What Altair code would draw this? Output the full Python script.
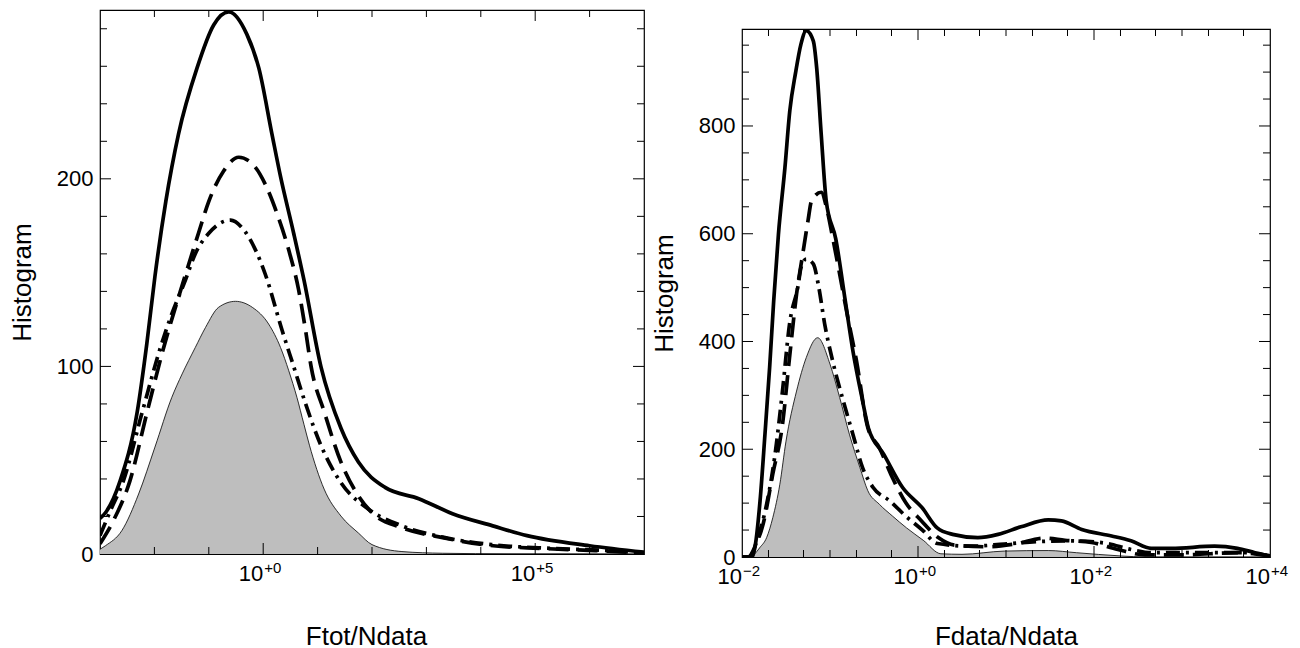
import altair as alt
import pandas as pd

FONT = "Liberation Sans"

# ---------------- Left panel: Ftot/Ndata (log10 exponent, histogram value)
L_solid_e = [-3.0, -2.9, -2.63, -2.32, -2.14, -1.99, -1.79, -1.556, -1.217, -0.91, -0.635, -0.30, -0.08, 0.16, 0.32, 0.56, 0.75, 1.06, 1.43, 1.75, 2.24, 2.86, 3.48, 4.22, 4.85, 6.0, 7.0]
L_solid_v = [19, 22, 39, 75, 112, 148, 188, 224, 259, 282, 289, 277, 259, 224, 201, 171, 146, 100, 67, 49, 35.5, 29.5, 21.5, 15, 9.8, 4.4, 1]

L_dash_e = [-3.0, -2.75, -2.45, -2.14, -1.83, -1.46, -1.19, -1.0, -0.73, -0.45, -0.14, 0.04, 0.26, 0.47, 0.65, 0.78, 0.88, 1.12, 1.43, 1.75, 2.0, 2.55, 3.3, 4.23, 5.1, 6.1, 7.0]
L_dash_v = [5.5, 18, 39, 75, 110, 146, 171, 188, 204, 211.5, 206, 197, 181, 162, 141, 119, 100, 76, 49, 31, 22, 14, 8.7, 4.4, 3, 1.8, 0.5]

L_dot_e = [-3.0, -2.81, -2.57, -2.23, -1.89, -1.68, -1.43, -1.25, -1.0, -0.60, -0.39, -0.14, 0.04, 0.35, 0.56, 0.78, 1.06, 1.43, 1.93, 2.55, 3.3, 4.2, 5.3, 6.2, 7.0]
L_dot_v = [9.8, 23, 39, 75, 110, 128, 146, 160, 171, 178, 174, 162, 149, 119, 100, 80, 58, 38, 24, 15, 9, 5, 3, 2, 0.5]

L_gray_e = [-3.0, -2.9, -2.6, -2.29, -1.99, -1.68, -1.49, -1.25, -1.06, -0.82, -0.51, -0.20, 0.10, 0.32, 0.47, 0.62, 0.75, 0.85, 1.12, 1.43, 1.75, 2.0, 2.55, 3.3, 4.5, 7.0]
L_gray_v = [2.5, 4.4, 12.4, 32, 57, 83.5, 96, 110, 120.8, 131.5, 134.7, 131.5, 122.6, 110, 97.7, 83.5, 69, 58, 34.6, 20.2, 11.2, 5, 1.3, 0.4, 0.1, 0]

# ---------------- Right panel: Fdata/Ndata
R_solid_e = [-2.0, -1.9, -1.88, -1.848, -1.795, -1.739, -1.686, -1.64, -1.586, -1.512, -1.457, -1.391, -1.33, -1.27, -1.19, -1.152, -1.10, -1.043, -0.934, -0.826, -0.739, -0.63, -0.565, -0.39, -0.175, 0.044, 0.218, 0.393, 0.68, 0.91, 1.17, 1.48, 1.63, 1.86, 2.20, 2.42, 2.65, 2.88, 3.37, 3.63, 3.83, 4.0]
R_solid_v = [0, 0, 2, 23, 104, 228, 352, 475, 599, 723, 828, 899, 952, 977, 958, 909, 785, 661, 590, 475, 382, 290, 240, 191, 129, 92, 54, 42, 36, 42, 56, 69, 67, 51, 39, 30, 16, 16, 20, 16, 8, 2]

R_dash_e = [-2.0, -1.93, -1.84, -1.76, -1.65, -1.54, -1.46, -1.38, -1.31, -1.25, -1.21, -1.10, -1.04, -0.97, -0.89, -0.81, -0.70, -0.57, -0.44, -0.29, -0.14, 0.04, 0.23, 0.42, 0.79, 1.10, 1.44, 1.67, 1.97, 2.27, 2.58, 3.0, 3.64, 4.0]
R_dash_v = [0, 0, 24, 61, 154, 246, 370, 488, 562, 624, 661, 677, 649, 593, 525, 455, 365, 240, 203, 147, 101, 67, 36, 22, 19, 24, 35, 31, 27, 14, 4, 4, 8, 2]

R_dot_e = [-2.0, -1.92, -1.82, -1.72, -1.63, -1.54, -1.46, -1.36, -1.33, -1.27, -1.19, -1.13, -1.06, -0.97, -0.85, -0.74, -0.63, -0.51, -0.32, -0.14, 0.05, 0.22, 0.61, 0.98, 1.36, 1.74, 2.12, 2.42, 2.65, 3.26, 3.7, 4.0]
R_dot_v = [0, 0, 36, 98, 184, 308, 432, 506, 537, 553, 544, 503, 432, 364, 290, 228, 166, 129, 104, 76, 50, 25, 20, 24, 28.5, 30, 26, 14, 8, 8, 8, 2]

R_gray_e = [-2.0, -1.90, -1.86, -1.80, -1.72, -1.65, -1.57, -1.50, -1.38, -1.27, -1.14, -1.0, -0.89, -0.78, -0.66, -0.57, -0.44, -0.29, -0.13, 0.06, 0.26, 0.5, 0.98, 1.48, 1.8, 2.3, 2.6, 4.0]
R_gray_v = [0, 0, 5, 17, 36, 73, 135, 215, 308, 370, 407, 358, 296, 228, 166, 123, 98, 76, 54, 31, 6, 5, 11, 12, 8, 2, 0, 0]

# ---------------- Axis ticks and labels
L_xdomain = [1e-3, 1e7]
L_ydomain = [0, 290]
L_xlabel_exp = [0, 5]
L_xlabel_sup = ["+0", "+5"]
L_xmajor_exp = [0, 5]
L_xminor_exp = [-2, -1, 1, 2, 3, 4, 6]
L_ylabels = [0, 100, 200]
L_ymajor = [100, 200]
L_yminor = [20, 40, 60, 80, 120, 140, 160, 180, 220, 240, 260, 280]

R_xdomain = [1e-2, 1e4]
R_ydomain = [0, 980]
R_xlabel_exp = [-2, 0, 2, 4]
R_xlabel_sup = ["\u22122", "+0", "+2", "+4"]
R_xmajor = [1, 100]
R_xminor = [0.02, 0.05, 0.1, 0.2, 0.5, 2, 5, 10, 20, 50, 200, 500, 1000, 2000, 5000]
R_ylabels = [0, 200, 400, 600, 800]
R_ymajor = [200, 400, 600, 800]
R_yminor = [50, 100, 150, 250, 300, 350, 450, 500, 550, 650, 700, 750, 850, 900, 950]


def curve_df(e, v):
    return pd.DataFrame({"x": [10 ** a for a in e], "y": v})


def panel(curves, gray, xdom, ydom, lab_exp, lab_sup, ylabels, xmajor, xminor,
          ymajor, yminor, W, H, xtitle, title_x, title_pad):
    xs = alt.Scale(type="log", domain=xdom, nice=False)
    ys = alt.Scale(domain=ydom, nice=False, zero=False)
    xax = alt.Axis(values=[10 ** e for e in lab_exp], labels=False,
                   ticks=False, domain=False, grid=False, title=xtitle, titlePadding=title_pad,
                   titleX=title_x)
    yax = alt.Axis(values=ylabels, ticks=False, domain=False, grid=False, title="Histogram",
                   labelPadding=7, titlePadding=21, labelFlush=False, labelOverlap=False)
    X = alt.X("x:Q", scale=xs, axis=xax)
    Y = alt.Y("y:Q", scale=ys, axis=yax)

    layers = []
    gdf = curve_df(*gray)
    layers.append(alt.Chart(gdf).mark_area(color="#bebebe", interpolate="monotone", clip=True)
                  .encode(x=X, y=Y))
    layers.append(alt.Chart(gdf).mark_line(color="black", strokeWidth=0.8, interpolate="monotone", clip=True)
                  .encode(x=X, y=Y))
    styles = [[], [20, 9], [14, 6, 3, 6]]
    for (e, v), dash in zip(curves, styles):
        kw = dict(color="black", strokeWidth=3.7, interpolate="monotone", clip=True)
        if dash:
            kw["strokeDash"] = dash
        layers.append(alt.Chart(curve_df(e, v)).mark_line(**kw).encode(x=X, y=Y))

    def xt(vals, L):
        d = pd.DataFrame({"x": vals})
        return [
            alt.Chart(d).mark_rule(color="black", strokeWidth=1).encode(x=X, y=alt.value(H), y2=alt.value(H - L)),
            alt.Chart(d).mark_rule(color="black", strokeWidth=1).encode(x=X, y=alt.value(0), y2=alt.value(L)),
        ]

    def yt(vals, L):
        d = pd.DataFrame({"y": vals})
        return [
            alt.Chart(d).mark_rule(color="black", strokeWidth=1).encode(y=Y, x=alt.value(0), x2=alt.value(L)),
            alt.Chart(d).mark_rule(color="black", strokeWidth=1).encode(y=Y, x=alt.value(W), x2=alt.value(W - L)),
        ]

    layers += xt(xmajor, 11) + xt(xminor, 7) + yt(ymajor, 11) + yt(yminor, 7)

    # x tick labels "10" with raised exponent
    ldf = pd.DataFrame({"x": [10 ** e for e in lab_exp], "base": ["10"] * len(lab_exp), "sup": lab_sup})
    layers.append(alt.Chart(ldf).mark_text(align="right", baseline="alphabetic", fontSize=22,
                                           font=FONT, color="black", dx=0)
                  .encode(x=X, y=alt.value(H + 27), text="base:N"))
    layers.append(alt.Chart(ldf).mark_text(align="left", baseline="alphabetic", fontSize=15,
                                           font=FONT, color="black", dx=1)
                  .encode(x=X, y=alt.value(H + 19), text="sup:N"))
    return alt.layer(*layers).properties(width=W, height=H)


left = panel([(L_solid_e, L_solid_v), (L_dash_e, L_dash_v), (L_dot_e, L_dot_v)],
             (L_gray_e, L_gray_v), L_xdomain, L_ydomain, L_xlabel_exp, L_xlabel_sup,
             L_ylabels, [10 ** e for e in L_xmajor_exp], [10 ** e for e in L_xminor_exp],
             L_ymajor, L_yminor, 544, 544, "Ftot/Ndata", 266, 69)

right = panel([(R_solid_e, R_solid_v), (R_dash_e, R_dash_v), (R_dot_e, R_dot_v)],
              (R_gray_e, R_gray_v), R_xdomain, R_ydomain, R_xlabel_exp, R_xlabel_sup,
              R_ylabels, R_xmajor, R_xminor, R_ymajor, R_yminor, 528, 528, "Fdata/Ndata", 264, 66)

spacer = (alt.Chart(pd.DataFrame({"a": [0]})).mark_point(opacity=0, size=0)
          .encode(x=alt.value(10), y=alt.value(8))
          .properties(width=528, height=16, view=alt.ViewBackground(stroke="transparent")))

chart = (
    alt.hconcat(left, alt.vconcat(spacer, right, spacing=0), spacing=4)
    .properties(padding={"left": 0, "top": 0, "right": 0, "bottom": 0})
    .configure_view(stroke="black", strokeWidth=1.2)
    .configure_axis(labelFont=FONT, titleFont=FONT, labelFontSize=22, titleFontSize=26,
                    titleFontWeight="normal", labelColor="black", titleColor="black")
)

chart.save("out.html", embed_options={"renderer": "svg", "actions": False})
